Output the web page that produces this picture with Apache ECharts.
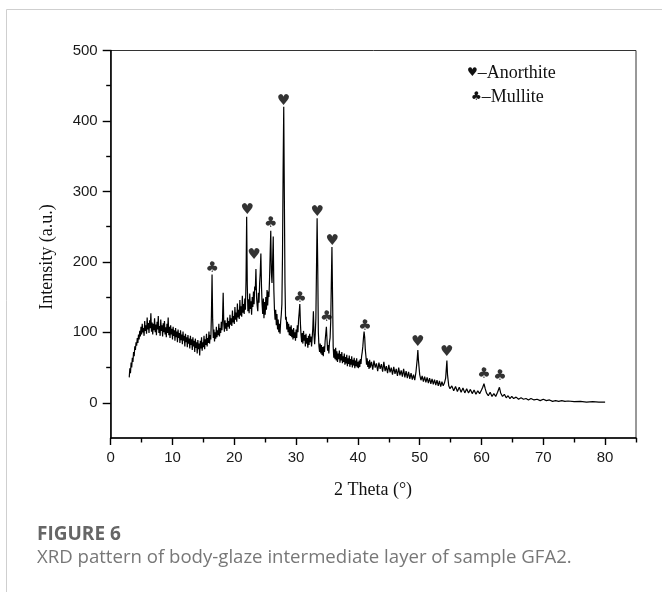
<!DOCTYPE html>
<html>
<head>
<meta charset="utf-8">
<script src="https://cdn.jsdelivr.net/npm/echarts@6/dist/echarts.min.js"></script>
<style>
html,body{margin:0;padding:0;background:#fff;}
#chart{width:662px;height:592px;}
</style>
</head>
<body>
<div id="chart"></div>
<script>
// XRD pattern: [2-theta (deg), intensity (a.u.)]
var pattern = [
[3.0,36],[3.1,49],[3.2,42],[3.3,57],[3.4,50],[3.5,64],[3.6,58],[3.7,72],[3.8,66],[3.9,80],
[4.0,75],[4.1,86],[4.2,81],[4.3,92],[4.4,85],[4.5,97],[4.6,90],[4.7,102],[4.8,94],[4.9,108],
[5.0,97],[5.1,112],[5.2,100],[5.3,106],[5.4,95],[5.5,116],[5.6,102],[5.7,110],[5.8,98],[5.9,121],
[6.0,104],[6.1,113],[6.2,99],[6.3,117],[6.4,106],[6.5,127],[6.6,101],[6.7,114],[6.8,97],[6.9,112],
[7.0,103],[7.1,120],[7.2,100],[7.3,111],[7.4,96],[7.5,115],[7.6,104],[7.7,123],[7.8,99],[7.9,109],
[8.0,95],[8.1,118],[8.2,102],[8.3,110],[8.4,94],[8.5,113],[8.6,100],[8.7,116],[8.8,97],[8.9,107],
[9.0,93],[9.1,112],[9.2,99],[9.3,121],[9.4,96],[9.5,108],[9.6,92],[9.7,110],[9.8,97],[9.9,105],
[10.0,90],[10.1,108],[10.2,95],[10.3,103],[10.4,88],[10.5,106],[10.6,93],[10.7,101],[10.8,86],[10.9,104],
[11.0,92],[11.1,99],[11.2,85],[11.3,103],[11.4,89],[11.5,97],[11.6,83],[11.7,101],[11.8,88],[11.9,95],
[12.0,80],[12.1,98],[12.2,86],[12.3,93],[12.4,79],[12.5,96],[12.6,84],[12.7,91],[12.8,77],[12.9,95],
[13.0,82],[13.1,90],[13.2,75],[13.3,93],[13.4,80],[13.5,88],[13.6,72],[13.7,91],[13.8,78],[13.9,86],
[14.0,70],[14.1,89],[14.2,76],[14.3,84],[14.4,67],[14.5,88],[14.6,77],[14.7,93],[14.8,74],[14.9,86],
[15.0,79],[15.1,95],[15.2,76],[15.3,90],[15.4,82],[15.5,98],[15.6,80],[15.7,92],[15.8,85],[15.9,101],
[16.0,84],[16.1,96],[16.2,90],[16.3,125],[16.4,182],[16.5,118],[16.6,92],[16.7,104],[16.8,87],[16.9,100],
[17.0,91],[17.1,108],[17.2,93],[17.3,103],[17.4,96],[17.5,112],[17.6,94],[17.7,106],[17.8,99],[17.9,115],
[18.0,103],[18.1,120],[18.2,156],[18.3,112],[18.4,101],[18.5,117],[18.6,105],[18.7,113],[18.8,102],[18.9,121],
[19.0,108],[19.1,116],[19.2,105],[19.3,125],[19.4,111],[19.5,120],[19.6,109],[19.7,131],[19.8,114],[19.9,123],
[20.0,112],[20.1,136],[20.2,118],[20.3,128],[20.4,115],[20.5,141],[20.6,121],[20.7,132],[20.8,119],[20.9,146],
[21.0,124],[21.1,137],[21.2,122],[21.3,152],[21.4,128],[21.5,140],[21.6,126],[21.7,148],[21.8,132],[21.9,175],
[22.0,264],[22.1,168],[22.2,130],[22.3,147],[22.4,127],[22.5,155],[22.6,133],[22.7,144],[22.8,125],[22.9,150],
[23.0,136],[23.1,158],[23.2,140],[23.3,165],[23.4,160],[23.5,190],[23.6,150],[23.7,138],[23.8,130],[23.9,156],
[24.0,142],[24.1,170],[24.2,185],[24.3,212],[24.4,165],[24.5,140],[24.6,126],[24.7,148],[24.8,120],[24.9,143],
[25.0,125],[25.1,150],[25.2,132],[25.3,160],[25.4,138],[25.5,158],[25.6,150],[25.7,175],[25.8,210],[25.9,244],
[26.0,185],[26.1,170],[26.2,200],[26.3,236],[26.4,160],[26.5,132],[26.6,118],[26.7,132],[26.8,110],[26.9,126],
[27.0,104],[27.1,118],[27.2,100],[27.3,112],[27.4,98],[27.5,115],[27.6,125],[27.7,140],[27.8,210],[27.9,330],
[28.0,420],[28.1,290],[28.2,170],[28.3,118],[28.4,122],[28.5,104],[28.6,115],[28.7,100],[28.8,112],[28.9,96],
[29.0,108],[29.1,95],[29.2,110],[29.3,93],[29.4,104],[29.5,90],[29.6,106],[29.7,92],[29.8,100],[29.9,88],
[30.0,104],[30.1,92],[30.2,110],[30.3,100],[30.4,118],[30.5,128],[30.6,140],[30.7,112],[30.8,96],[30.9,86],
[31.0,99],[31.1,84],[31.2,102],[31.3,88],[31.4,96],[31.5,80],[31.6,98],[31.7,84],[31.8,92],[31.9,78],
[32.0,95],[32.1,82],[32.2,98],[32.3,86],[32.4,94],[32.5,80],[32.6,92],[32.7,105],[32.8,130],[32.9,96],
[33.0,83],[33.1,98],[33.2,120],[33.3,190],[33.4,262],[33.5,195],[33.6,100],[33.7,80],[33.8,72],[33.9,84],
[34.0,70],[34.1,82],[34.2,68],[34.3,79],[34.4,66],[34.5,80],[34.6,72],[34.7,88],[34.8,98],[34.9,108],
[35.0,90],[35.1,74],[35.2,82],[35.3,70],[35.4,86],[35.5,92],[35.6,115],[35.7,170],[35.8,221],[35.9,150],
[36.0,80],[36.1,64],[36.2,76],[36.3,62],[36.4,78],[36.5,60],[36.6,73],[36.7,58],[36.8,70],[36.9,62],
[37.0,74],[37.1,57],[37.2,69],[37.3,60],[37.4,72],[37.5,56],[37.6,66],[37.7,58],[37.8,70],[37.9,54],
[38.0,65],[38.1,56],[38.2,68],[38.3,52],[38.4,63],[38.5,55],[38.6,67],[38.7,51],[38.8,62],[38.9,54],
[39.0,66],[39.1,50],[39.2,61],[39.3,53],[39.4,64],[39.5,49],[39.6,60],[39.7,52],[39.8,63],[39.9,50],
[40.0,58],[40.1,49],[40.2,60],[40.3,51],[40.4,62],[40.5,55],[40.6,66],[40.7,72],[40.8,80],[40.9,92],
[41.0,101],[41.1,93],[41.2,75],[41.3,66],[41.4,54],[41.5,63],[41.6,51],[41.7,59],[41.8,48],[41.9,61],
[42.0,50],[42.2,58],[42.4,47],[42.6,60],[42.8,50],[43.0,56],[43.2,45],[43.4,57],[43.6,48],[43.8,55],
[44.0,44],[44.2,58],[44.4,45],[44.6,52],[44.8,42],[45.0,54],[45.2,43],[45.4,50],[45.6,40],[45.8,51],
[46.0,41],[46.2,48],[46.4,38],[46.6,50],[46.8,39],[47.0,46],[47.2,37],[47.4,48],[47.6,36],[47.8,45],
[48.0,35],[48.2,44],[48.4,34],[48.6,42],[48.8,33],[49.0,40],[49.2,32],[49.4,44],[49.6,62],[49.7,75],
[49.8,60],[50.0,40],[50.2,32],[50.4,38],[50.6,30],[50.8,37],[51.0,29],[51.2,36],[51.4,28],[51.6,35],
[51.8,27],[52.0,34],[52.2,26],[52.4,33],[52.6,25],[52.8,32],[53.0,24],[53.2,31],[53.4,23],[53.6,30],
[53.8,24],[54.0,28],[54.2,35],[54.4,60],[54.5,40],[54.7,24],[54.9,20],[55.2,24],[55.5,17],[55.8,23],
[56.1,16],[56.4,22],[56.7,15],[57.0,21],[57.3,14],[57.6,20],[57.9,14],[58.2,19],[58.5,13],[58.8,18],
[59.1,12],[59.4,17],[59.7,13],[60.0,18],[60.2,22],[60.4,27],[60.6,20],[60.8,14],[61.1,10],[61.4,15],
[61.7,9],[62.0,13],[62.3,9],[62.6,15],[62.9,22],[63.1,14],[63.4,9],[63.7,12],[64.0,7],[64.3,10],
[64.6,6],[64.9,9],[65.2,6],[65.6,8],[66.0,5],[66.4,7],[66.8,5],[67.2,6],[67.6,4],[68.0,6],
[68.5,4],[69.0,5],[69.5,3],[70.0,5],[70.5,3],[71.0,4],[71.5,2],[72.0,3],[72.5,2],[73.0,3],
[73.5,2],[74.0,2.5],[75.0,1.5],[76.0,2],[77.0,1],[78.0,1.5],[79.0,1],[80.0,1]
];
// Phase marker positions (glyph centres) [2-theta, intensity]
var anorthiteMarks = [[22.1,273],[23.2,210],[27.95,428],[33.43,271],[35.86,230],[49.67,86],[54.37,72]];
var mulliteMarks = [[16.44,191],[25.9,255],[30.63,148],[34.95,121],[41.15,109],[60.4,40],[63.0,38]];
// Axis ticks
var xMajorTicks = [0,10,20,30,40,50,60,70,80];
var xMinorTicks = [5,15,25,35,45,55,65,75,85];
var yMajorTicks = [0,100,200,300,400,500];
var yMinorTicks = [50,150,250,350,450];

var chart = echarts.init(document.getElementById('chart'), null, {renderer:'canvas'});
var axisColor = '#000';
var labelFont = {fontFamily:'Liberation Sans, Arial, sans-serif', fontSize:15, color:'#1a1a1a'};
var gridDef = {left:110.7, right:26, top:50.5, bottom:154, show:true, borderColor:'#333', borderWidth:1, containLabel:false};

function markSeries(data, glyph){
  return {
    type:'scatter', data:data, symbolSize:1, itemStyle:{color:'rgba(0,0,0,0)'},
    xAxisIndex:0, yAxisIndex:0, silent:true, z:5,
    label:{show:true, position:'inside', formatter:glyph, fontSize:15, color:'#000',
           fontFamily:'DejaVu Sans, sans-serif'}
  };
}

chart.setOption({
  animation:false,
  backgroundColor:'#fff',
  grid:gridDef,
  xAxis:[
    {type:'value', min:0, max:85,
     axisLine:{show:true, onZero:false, lineStyle:{color:axisColor, width:1.5}},
     axisTick:{show:true, inside:false, length:7, customValues:xMajorTicks, lineStyle:{color:axisColor, width:1.4}},
     axisLabel:Object.assign({margin:12, customValues:xMajorTicks}, labelFont),
     splitLine:{show:false}},
    {type:'value', min:0, max:85, position:'bottom',
     axisLine:{show:false, onZero:false},
     axisTick:{show:true, inside:false, length:4.5, customValues:xMinorTicks, lineStyle:{color:axisColor, width:1.4}},
     axisLabel:{show:false, customValues:xMinorTicks},
     splitLine:{show:false}}
  ],
  yAxis:[
    {type:'value', min:-50, max:500,
     axisLine:{show:true, onZero:false, lineStyle:{color:axisColor, width:1.5}},
     axisTick:{show:true, inside:false, length:8, customValues:yMajorTicks, lineStyle:{color:axisColor, width:1.4}},
     axisLabel:Object.assign({margin:13, customValues:yMajorTicks}, labelFont),
     splitLine:{show:false}},
    {type:'value', min:-50, max:500, position:'left',
     axisLine:{show:false, onZero:false},
     axisTick:{show:true, inside:false, length:4.5, customValues:yMinorTicks, lineStyle:{color:axisColor, width:1.4}},
     axisLabel:{show:false, customValues:yMinorTicks},
     splitLine:{show:false}}
  ],
  series:[
    {type:'line', data:pattern, xAxisIndex:0, yAxisIndex:0, showSymbol:false, symbol:'none',
     lineStyle:{color:'#000', width:1.2}, silent:true, z:3},
    markSeries(anorthiteMarks, '\u2665'),
    markSeries(mulliteMarks, '\u2663')
  ],
  graphic:[
    {type:'line', shape:{x1:6.5, y1:9.5, x2:662, y2:9.5}, style:{stroke:'#cfcfcf', lineWidth:1}, silent:true},
    {type:'line', shape:{x1:6.5, y1:9.5, x2:6.5, y2:592}, style:{stroke:'#cfcfcf', lineWidth:1}, silent:true},
    {type:'text', x:467, y:73, silent:true,
     style:{text:'{s|\u2665}\u2013Anorthite', font:'18px "Liberation Serif", "Times New Roman", serif', fill:'#111',
            textVerticalAlign:'middle',
            rich:{s:{fontSize:12, fontFamily:'DejaVu Sans', fill:'#111'}}}},
    {type:'text', x:471, y:97, silent:true,
     style:{text:'{s|\u2663}\u2013Mullite', font:'18px "Liberation Serif", "Times New Roman", serif', fill:'#111',
            textVerticalAlign:'middle',
            rich:{s:{fontSize:12, fontFamily:'DejaVu Sans', fill:'#111'}}}},
    {type:'text', x:373, y:490, silent:true,
     style:{text:'2 Theta (\u00b0)', font:'18px "Liberation Serif", "Times New Roman", serif', fill:'#111',
            textAlign:'center', textVerticalAlign:'middle'}},
    {type:'text', x:47, y:257, rotation:Math.PI/2, silent:true,
     style:{text:'Intensity (a.u.)', font:'18px "Liberation Serif", "Times New Roman", serif', fill:'#111',
            textAlign:'center', textVerticalAlign:'middle'}},
    {type:'text', x:37, y:535, silent:true,
     style:{text:'FIGURE 6', font:'bold 19px "Open Sans", "Noto Sans", sans-serif', fill:'#666',
            textAlign:'left', textVerticalAlign:'middle'}},
    {type:'text', x:37, y:558, silent:true,
     style:{text:'XRD pattern of body-glaze intermediate layer of sample GFA2.', font:'18.6px "Open Sans", "Noto Sans", sans-serif', fill:'#777',
            textAlign:'left', textVerticalAlign:'middle'}}
  ]
});
</script>
</body>
</html>
